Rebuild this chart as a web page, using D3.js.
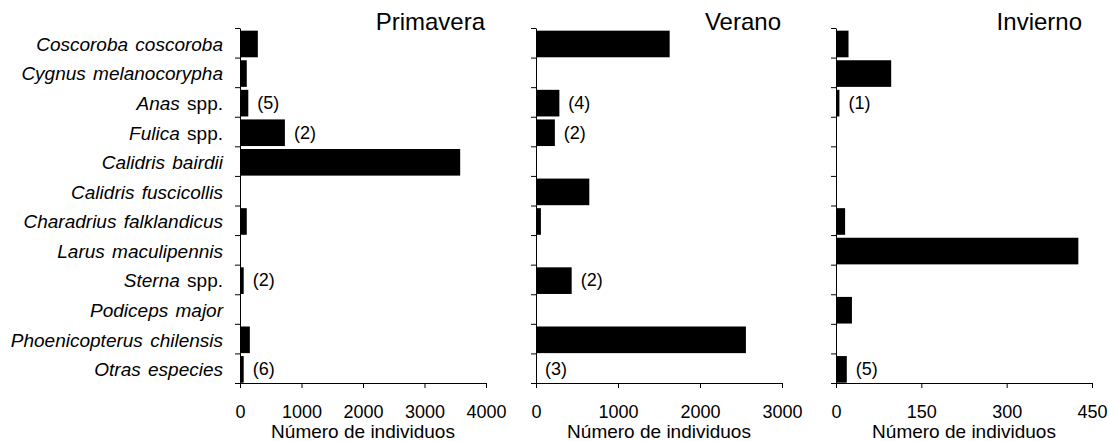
<!DOCTYPE html>
<html>
<head>
<meta charset="utf-8">
<script src="https://cdn.jsdelivr.net/npm/d3@7"></script>
<style>
  html, body { margin: 0; padding: 0; background: #fff; }
  svg { display: block; font-family: "Liberation Sans", Arial, sans-serif; }
</style>
</head>
<body>
<svg id="chart" width="1109" height="441"></svg>
<script>
// ---- Data ----
const species = [
  "Coscoroba coscoroba", "Cygnus melanocorypha", "Anas spp.", "Fulica spp.",
  "Calidris bairdii", "Calidris fuscicollis", "Charadrius falklandicus",
  "Larus maculipennis", "Sterna spp.", "Podiceps major",
  "Phoenicopterus chilensis", "Otras especies"
];
const seasons = ["Primavera", "Verano", "Invierno"];
const primavera = [290, 110, 135, 730, 3580, 0, 110, 0, 60, 0, 160, 60];
const verano    = [1630, 0, 285, 230, 0, 650, 60, 0, 435, 0, 2560, 0];
const invierno  = [22, 97, 6, 0, 0, 0, 16, 426, 0, 28, 0, 19];
const primaveraN = [null, null, "(5)", "(2)", null, null, null, null, "(2)", null, null, "(6)"];
const veranoN    = [null, null, "(4)", "(2)", null, null, null, null, "(2)", null, null, "(3)"];
const inviernoN  = [null, null, "(1)", null, null, null, null, null, null, null, null, "(5)"];
const primaveraTicks = [0, 1000, 2000, 3000, 4000];
const veranoTicks    = [0, 1000, 2000, 3000];
const inviernoTicks  = [0, 150, 300, 450];
const xAxisTitle = "Número de individuos";

// ---- Layout ----
const yTop = 28, yBottom = 383;
const panelsLayout = [
  { x0: 240, x1: 486 },
  { x0: 536, x1: 782 },
  { x0: 836, x1: 1092 }
];
const panelData = [
  { name: seasons[0], values: primavera, notes: primaveraN, ticks: primaveraTicks },
  { name: seasons[1], values: verano,    notes: veranoN,    ticks: veranoTicks },
  { name: seasons[2], values: invierno,  notes: inviernoN,  ticks: inviernoTicks }
];

const svg = d3.select("#chart");

const y = d3.scaleBand().domain(species).range([yTop, yBottom]).padding(0);
const yIdx = d3.scaleLinear().domain([0, species.length]).range([yTop, yBottom]);
const bw = y.bandwidth();

// Category labels
const labels = svg.append("g")
  .attr("text-anchor", "end")
  .style("font-size", "19px");
species.forEach(s => {
  const t = labels.append("text")
    .attr("x", panelsLayout[0].x0 - 17)
    .attr("y", y(s) + bw / 2 + 1)
    .attr("dominant-baseline", "central")
    .style("word-spacing", "2px");
  const m = s.match(/^(.*?)( spp\.)$/);
  if (m) {
    t.append("tspan").style("font-style", "italic").text(m[1]);
    t.append("tspan").text(m[2]);
  } else {
    t.append("tspan").style("font-style", "italic").text(s);
  }
});

panelData.forEach((p, i) => {
  const L = panelsLayout[i];
  const maxV = p.ticks[p.ticks.length - 1];
  const x = d3.scaleLinear().domain([0, maxV]).range([L.x0, L.x1]);
  const g = svg.append("g");
  const rows = species.map((s, k) => ({ s, v: p.values[k], n: p.notes[k] }));

  // bars
  g.selectAll("rect.bar")
    .data(rows)
    .enter().append("rect")
    .attr("class", "bar")
    .attr("x", x(0))
    .attr("y", d => y(d.s) + bw * 0.09)
    .attr("width", d => x(d.v) - x(0))
    .attr("height", bw * 0.9)
    .attr("fill", "#000");

  // notes
  g.selectAll("text.note")
    .data(rows.filter(d => d.n))
    .enter().append("text")
    .attr("class", "note")
    .attr("x", d => x(d.v) + 9)
    .attr("y", d => y(d.s) + bw / 2 + 1)
    .attr("dominant-baseline", "central")
    .style("font-size", "18px")
    .text(d => d.n);

  // y axis (ticks at band boundaries)
  const ya = g.append("g")
    .attr("transform", `translate(${L.x0},0)`)
    .call(d3.axisLeft(yIdx).tickValues(d3.range(0, species.length + 1)).tickFormat("").tickSize(5).tickSizeOuter(0));
  ya.select(".domain").attr("stroke", "#000");
  ya.selectAll(".tick line").attr("stroke", "#000");

  // x axis
  const xa = g.append("g")
    .attr("transform", `translate(0,${yBottom})`)
    .call(d3.axisBottom(x).tickValues(p.ticks).tickFormat(d3.format("d")).tickSize(5).tickSizeOuter(0).tickPadding(17));
  xa.select(".domain").attr("stroke", "#000");
  xa.selectAll(".tick line").attr("stroke", "#000");
  xa.selectAll(".tick text")
    .attr("fill", "#000")
    .style("font-size", "18px")
    .style("font-family", "'Liberation Sans', Arial, sans-serif");

  // axis title
  g.append("text")
    .attr("x", (L.x0 + L.x1) / 2)
    .attr("y", 438)
    .attr("text-anchor", "middle")
    .style("font-size", "19px")
    .text(xAxisTitle);

  // season title
  g.append("text")
    .attr("x", Math.min(L.x1 - 1, 1082))
    .attr("y", 30)
    .attr("text-anchor", "end")
    .style("font-size", "24px")
    .text(p.name);
});
</script>
</body>
</html>
